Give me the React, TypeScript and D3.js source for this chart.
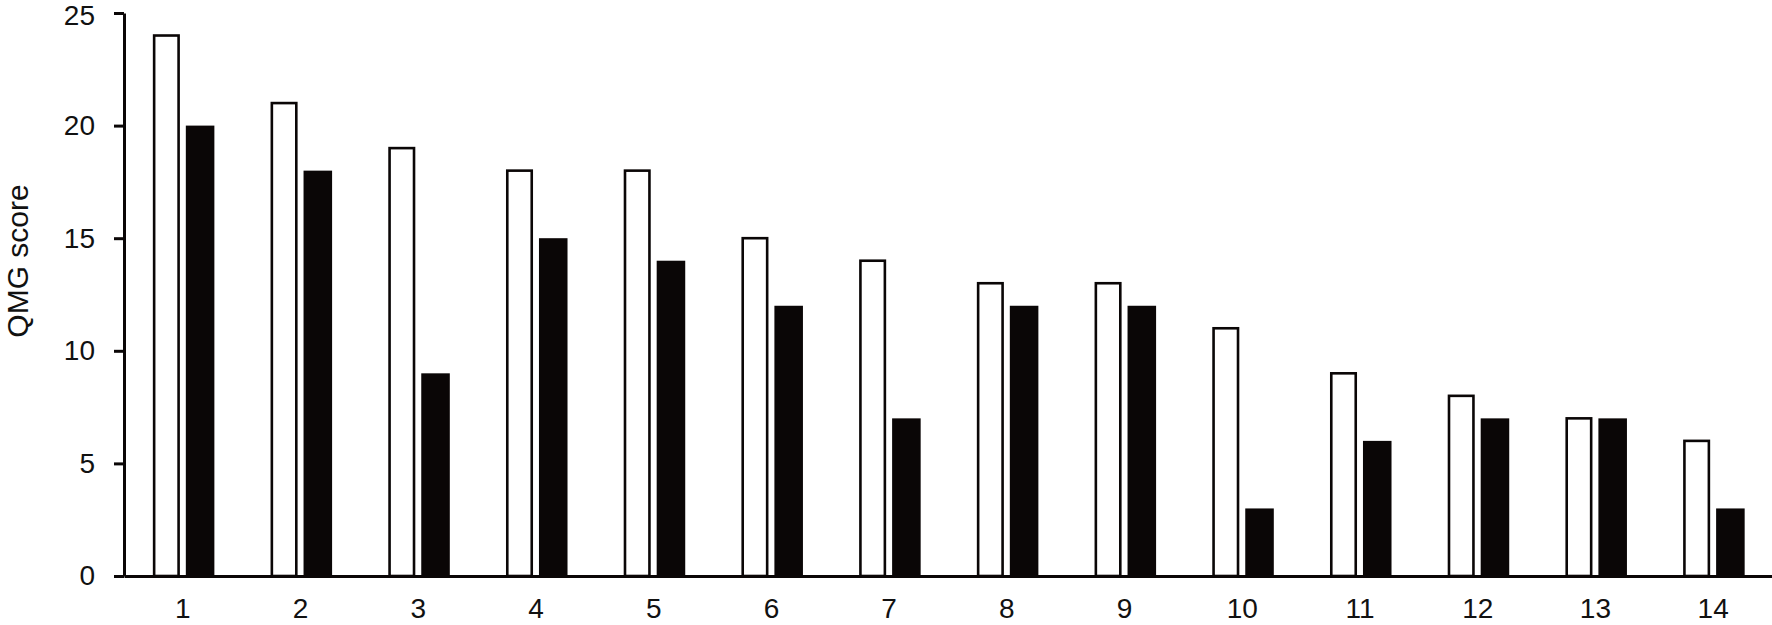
import { axisBottom, axisLeft, scaleBand, scaleLinear, select } from "d3";
import { useEffect, useRef } from "react";

const categories = ["1", "2", "3", "4", "5", "6", "7", "8", "9", "10", "11", "12", "13", "14"];
const openBars = [24, 21, 19, 18, 18, 15, 14, 13, 13, 11, 9, 8, 7, 6];
const filledBars = [20, 18, 9, 15, 14, 12, 7, 12, 12, 3, 6, 7, 7, 3];
const yTicks = [0, 5, 10, 15, 20, 25];
const series = ["open", "filled"];

const W = 1772;
const H = 625;
const FONT = "'Liberation Sans', Arial, sans-serif";

function App() {
  const svgRef = useRef<SVGSVGElement>(null);

  useEffect(() => {
    if (!svgRef.current) return;
    const svg = select(svgRef.current);
    svg.selectAll("*").remove();

    const x = scaleBand().domain(categories).range([124, W]).paddingInner(0.49).paddingOuter(0.245);
    const sub = scaleBand().domain(series).range([0, x.bandwidth()]).paddingInner(0.18);
    const y = scaleLinear().domain([0, 25]).range([576, 13]);

    const rows = categories.map((c, i) => ({ c, open: openBars[i], filled: filledBars[i] }));

    // bars
    const g = svg.append("g");
    g.selectAll("rect.open")
      .data(rows)
      .join("rect")
      .attr("class", "open")
      .attr("x", (d) => x(d.c)! + sub("open")! + 1.3)
      .attr("y", (d) => y(d.open))
      .attr("width", sub.bandwidth() - 2.6)
      .attr("height", (d) => y(0) - y(d.open))
      .attr("fill", "#fff")
      .attr("stroke", "#0a0606")
      .attr("stroke-width", 2.6);

    g.selectAll("rect.filled")
      .data(rows)
      .join("rect")
      .attr("class", "filled")
      .attr("x", (d) => x(d.c)! + sub("filled")!)
      .attr("y", (d) => y(d.filled))
      .attr("width", sub.bandwidth() + 1.5)
      .attr("height", (d) => y(0) - y(d.filled))
      .attr("fill", "#0a0606");

    // x axis
    const xa = svg
      .append("g")
      .attr("transform", `translate(0,${y(0)})`)
      .call(axisBottom(x).tickSize(0).tickPadding(22));
    xa.select(".domain").attr("stroke", "#0a0606").attr("stroke-width", 3);
    xa.selectAll("text").attr("font-size", 28).attr("font-family", FONT).attr("fill", "#111");

    // y axis
    const ya = svg
      .append("g")
      .attr("transform", "translate(124,0)")
      .call(axisLeft(y).tickValues(yTicks).tickSize(10).tickSizeOuter(0).tickPadding(19));
    ya.select(".domain").attr("stroke", "#0a0606").attr("stroke-width", 3);
    ya.selectAll("line").attr("stroke", "#0a0606").attr("stroke-width", 3);
    ya.selectAll<SVGTextElement, number>("text")
      .attr("font-size", 28)
      .attr("font-family", FONT)
      .attr("fill", "#111")
      .attr("y", (d) => (d === 25 ? 3 : 0));

    svg
      .append("text")
      .attr("transform", "translate(17,261) rotate(-90)")
      .attr("text-anchor", "middle")
      .attr("dominant-baseline", "central")
      .attr("font-size", 30)
      .attr("font-family", FONT)
      .attr("fill", "#111")
      .text("QMG score");
  }, []);

  return (
    <div style={{ position: "absolute", left: 0, top: 0 }}>
      <svg ref={svgRef} width={W} height={H} style={{ display: "block", background: "#fff" }}></svg>
    </div>
  );
}

export default App;
